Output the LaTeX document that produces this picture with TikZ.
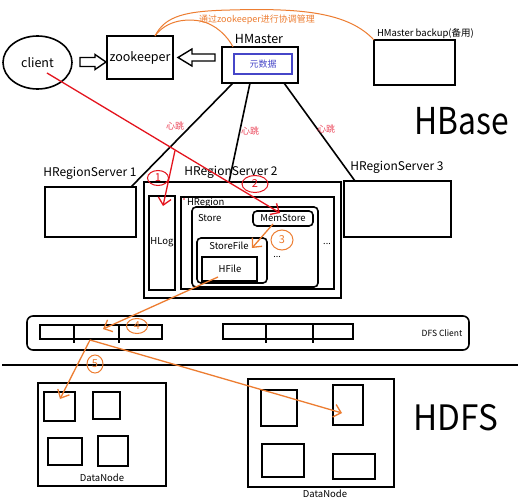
\documentclass[tikz,border=0pt]{standalone}
\usepackage{fontspec}
\setmainfont{Noto Sans CJK SC}
\usetikzlibrary{arrows.meta,shapes.geometric,calc}
\definecolor{hred}{RGB}{228,20,30}
\definecolor{hpink}{RGB}{236,70,90}
\definecolor{horange}{RGB}{237,125,49}
\definecolor{hblue}{RGB}{70,70,200}
\newcommand\fs[1]{\fontsize{#1}{#1}\selectfont}
\newcommand\mkbox[7]{\node[#2, anchor=north west, minimum width={#5-#3}, minimum height={#6-#4}] (#1) at (#3,#4) {#7};}
\tikzset{
  box/.style={draw, line width=1.6pt, inner sep=0pt, outer sep=0pt},
  rbox/.style={box, rounded corners=4pt},
  lbl/.style={inner sep=0pt, outer sep=0pt},
  redline/.style={draw=hred, line width=1.3pt},
  orline/.style={draw=horange, line width=1.3pt},
  barb/.style={-{Straight Barb[length=7pt,width=13pt]}},
  hollow/.style={draw, line width=1.4pt, line join=miter},
  beat/.style={lbl, text=hpink, font=\fs{9}},
  rcirc/.style={draw=hred, line width=1pt, ellipse, inner sep=0pt, text=hred, font=\fs{11}},
  ocirc/.style={draw=horange, line width=1pt, ellipse, inner sep=0pt, text=horange, font=\fs{11}},
}
\begin{document}
\begin{tikzpicture}[x=1pt,y=-1pt]
\useasboundingbox (0,0) rectangle (525,500);
\fill[white] (0,0) rectangle (525,500);

% ---------- top row ----------
\node[box, ellipse, minimum width=69, minimum height=53, font=\fs{12.5}] (client) at (37.5,62.5) {client};
\mkbox{zk}{box, font=\fs{12.5}}{107}{36}{173}{79}{zookeeper}
\mkbox{hm}{box}{222}{47}{298}{83}{}
\node[lbl, font=\fs{12.5}, anchor=south] (hmlbl) at (259,44) {HMaster};
\mkbox{meta}{box, draw=hblue, line width=1.2pt, text=hblue, font=\fs{9}}{234}{54}{292}{74}{元数据}
\mkbox{hmb}{box}{374}{40}{455}{85}{}
\node[lbl, font=\fs{9.5}, anchor=south west] (hmblbl) at (377,39) {HMaster backup(备用)};
\node[lbl, font=\fs{37}] (hbase) at (462,121) {\scalebox{0.86}[1]{HBase}};

% hollow arrows
\draw[hollow] ($(client.east)+(8,-5)$) -- ++(15,0) -- ++(0,-3) -- ++(11,7.5) -- ++(-11,7.5) -- ++(0,-3) -- ++(-15,0) -- cycle;
\draw[hollow] ($(hm.west)+(-7,-11)$) -- ++(-23,0) -- ++(0,-5) -- ++(-14,8.5) -- ++(14,8.5) -- ++(0,-5) -- ++(23,0) -- cycle;

% orange coordination curves
\coordinate (zktop) at (155,36);
\draw[orline, line width=1pt] (zktop) .. controls (165,16) and (185,11) .. (230,10) .. controls (300,8) and (348,12) .. (hmb.north west);
\draw[orline, line width=1pt] (zktop) .. controls (165,22) and (183,18) .. (200,21) .. controls (216,24) and (228,37) .. ($(hm.north west)+(11,0)$);
\node[lbl, text=horange, font=\fs{9}] (coord) at (257,20) {通过zookeeper进行协调管理};

% ---------- region servers ----------
\mkbox{rs1}{box}{45}{187}{136}{237}{}
\node[lbl, font=\fs{12}] (rs1lbl) at (90,173) {HRegionServer 1};
\mkbox{rs2}{box}{144}{182}{341}{298}{}
\node[lbl, font=\fs{12}] (rs2lbl) at (231,172) {HRegionServer 2};
\mkbox{rs3}{box}{344}{181}{451}{237}{}
\node[lbl, font=\fs{12}] (rs3lbl) at (397,167) {HRegionServer 3};

\draw[line width=1.6pt] ($(hm.south west)+(11,0)$) -- ($(rs1.north east)+(-5,0)$);
\draw[line width=1.6pt] ($(hm.south west)+(28,0)$) -- ($(rs2.north west)+(85,0)$);
\draw[line width=1.6pt] ($(hm.south west)+(62,0)$) -- ($(rs3.north west)+(11,0)$);
\node[beat] (hb1) at (175,126) {心跳};
\node[beat] (hb2) at (250,131) {心跳};
\node[beat] (hb3) at (326,129) {心跳};

% inside region server 2
\mkbox{hlog}{box}{149}{196}{175}{290}{}
\node[lbl, font=\fs{9.5}] (hloglbl) at (162,242) {HLog};
\mkbox{hreg}{box}{181}{197}{334}{289}{}
\node[lbl, font=\fs{9.5}, anchor=west] (hreglbl) at (187,203) {HRegion};
\fill[hred] (184,199) circle (0.8);
\mkbox{store}{rbox}{192}{207}{318}{287}{}
\node[lbl, font=\fs{9.5}, anchor=west] (storelbl) at (198,218) {Store};
\mkbox{ms}{rbox, font=\fs{9.5}}{253}{211}{313}{226}{MemStore}
\mkbox{sf}{rbox}{197}{238}{267}{283}{}
\node[lbl, font=\fs{9.5}] (sflbl) at (229,246) {StoreFile};
\mkbox{hf}{box}{202}{257}{257}{281}{}
\node[lbl, font=\fs{9.5}] (hflbl) at (230,269) {HFile};
\node[lbl, font=\fs{9}] (dots1) at (277,257) {...};
\node[lbl, font=\fs{9}] (dots2) at (327,244) {...};

% red arrows
\coordinate (cstart) at (47,73);
\coordinate (split) at (175,150.5);
\draw[redline, barb] (cstart) -- ($(ms.north west)+(27,2)$);
\draw[redline, barb] (split) -- ($(hlog.north west)+(14,10)$);
\node[rcirc, minimum width=21, minimum height=15] (n1) at (158,178) {1};
\node[rcirc, minimum width=26, minimum height=17] (n2) at (255,184) {2};

% orange arrows
\draw[orline, barb] ($(ms.south west)+(20,-2)$) -- ($(sf.north east)+(-15,10)$);
\node[ocirc, minimum width=22, minimum height=20] (n3) at (282,240) {3};

% ---------- DFS client ----------
\node[box, rounded corners=6pt, anchor=north west, minimum width=442, minimum height=34] (dfs) at (27,316) {};
\node[lbl, font=\fs{8.5}] (dfslbl) at (442,333) {DFS Client};
\mkbox{g1}{box, line width=1.4pt}{40}{325}{162}{339}{}
\draw[line width=1.4pt] (74,325) -- (74,343) (119,325) -- (119,343);
\mkbox{g2}{box, line width=1.4pt}{223}{324}{353}{339}{}
\draw[line width=1.4pt] (266,324) -- (266,343) (313,324) -- (313,343);

\draw[orline, barb] ($(hf.south west)+(16,-4)$) -- ($(g1.north west)+(63,4)$);
\node[ocirc, minimum width=21, minimum height=15] (n4) at (137,326) {4};

% separator
\draw[line width=1.3pt] (2,365) -- (518,365);

% ---------- HDFS ----------
\mkbox{dn1}{box}{38}{383}{166}{486}{}
\mkbox{d1a}{box}{44}{392}{75}{421}{}
\mkbox{d1b}{box}{93}{392}{120}{419}{}
\mkbox{d1c}{box}{48}{438}{82}{465}{}
\mkbox{d1d}{box}{98}{436}{128}{466}{}
\node[lbl, font=\fs{9.5}] (dn1lbl) at (102,478) {DataNode};
\mkbox{dn2}{box}{248}{379}{394}{487}{}
\mkbox{d2a}{box}{261}{390}{297}{426}{}
\mkbox{d2b}{box}{333}{385}{363}{425}{}
\mkbox{d2c}{box}{262}{444}{304}{477}{}
\mkbox{d2d}{box}{333}{454}{375}{479}{}
\node[lbl, font=\fs{9.5}] (dn2lbl) at (325,494) {DataNode};
\node[lbl, font=\fs{35}] (hdfs) at (456,418) {\scalebox{0.95}[1]{HDFS}};

\coordinate (blk) at (90,340);
\draw[orline, barb] (blk) -- ($(d1a.north west)+(16,7)$);
\draw[orline, barb] (blk) -- ($(d2b.north west)+(9,28)$);
\node[ocirc, minimum width=16, minimum height=18] (n5) at (95,364) {5};
\end{tikzpicture}
\end{document}
